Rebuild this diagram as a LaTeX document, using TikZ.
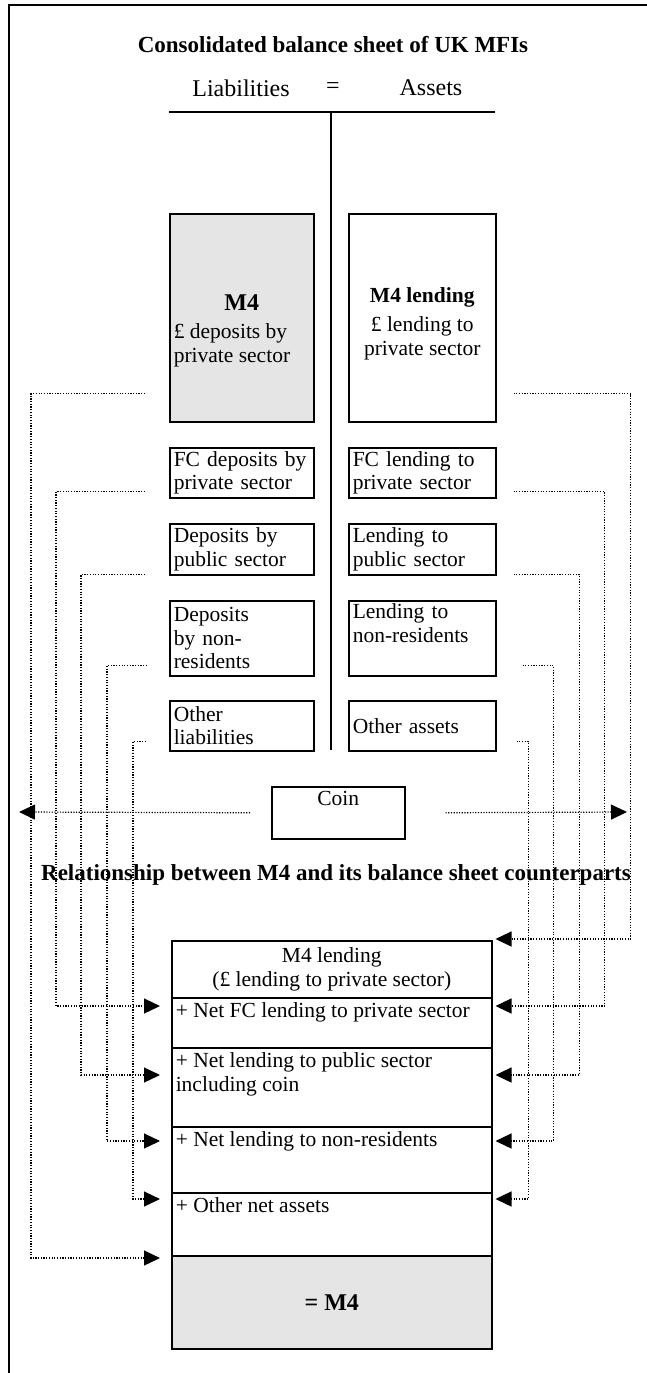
\documentclass[tikz,border=0pt]{standalone}
\usepackage{fontspec}
\setmainfont{Liberation Serif}
\usetikzlibrary{arrows.meta,calc}
\definecolor{sheetgrey}{HTML}{E5E5E5}

\begin{document}
\begin{tikzpicture}[x=1pt,y=-1pt,line width=1.5pt,
  font=\fontsize{21.5}{23.5}\selectfont,
  sheet/.style={rectangle,draw=black,line width=1.5pt,anchor=north west,inner xsep=4pt,inner ysep=2pt,align=left},
  rowtext/.style={anchor=north west,inner xsep=4pt,inner ysep=5pt,align=left},
  heading/.style={font=\fontsize{23}{27}\selectfont\bfseries},
  flow/.style={line width=1.2pt,dash pattern=on 1.2pt off 1.5pt,-{Triangle[length=16pt,width=15pt]}}]
\useasboundingbox (0,0) rectangle (647,1373);
\draw[line width=2pt] (647,5) -- (9,5) -- (9,1373);

\node[heading] (sheettitle) at (333,45) {Consolidated balance sheet of UK MFIs};
\node[font=\fontsize{24}{28}\selectfont] (liab) at (241,88) {Liabilities};
\node[font=\fontsize{24}{28}\selectfont] (equals) at (333,88) {=};
\node[font=\fontsize{24}{28}\selectfont] (assets) at (431,88) {Assets};
\draw[line width=2pt] (169,112) -- (495,112);
\draw[line width=2pt] (331,112) -- (331,750);

% liabilities side
\node[sheet,fill=sheetgrey,minimum width=144pt,minimum height=208pt] (m4dep) at (169,213) {};
\node[align=left,inner sep=0pt] (m4deptxt) at ([yshift=-13pt]m4dep.center) {\makebox[136pt]{\fontsize{24}{28}\selectfont\bfseries M4}\\[5pt]£ deposits by\\private sector};
\node[sheet,minimum width=144pt,minimum height=50pt,text width=136pt] (fcdep) at (169,447) {FC deposits by\\private sector};
\node[sheet,minimum width=144pt,minimum height=51pt,text width=136pt] (pubdep) at (169,523) {Deposits by\\public sector};
\node[sheet,minimum width=144pt,minimum height=75pt,text width=136pt] (nrdep) at (169,600) {Deposits\\by non-\\residents};
\node[sheet,minimum width=144pt,minimum height=50pt,text width=136pt] (othliab) at (169,700) {Other\\liabilities};

% assets side
\node[sheet,minimum width=147pt,minimum height=208pt] (m4lend) at (348,213) {};
\node[align=center,inner sep=0pt] (m4lendtxt) at ([yshift=-6pt]m4lend.center) {\textbf{M4 lending}\\[6pt]£ lending to\\private sector};
\node[sheet,minimum width=147pt,minimum height=50pt,text width=139pt] (fclend) at (348,447) {FC lending to\\private sector};
\node[sheet,minimum width=147pt,minimum height=51pt,text width=139pt] (publend) at (348,523) {Lending to\\public sector};
\node[sheet,minimum width=147pt,minimum height=75pt,text width=139pt] (nrlend) at (348,600) {Lending to\\non-residents\\\strut};
\node[sheet,minimum width=147pt,minimum height=50pt,text width=139pt] (othass) at (348,700) {Other assets};

\node[sheet,minimum width=133pt,minimum height=52pt,align=center] (coin) at (271,786) {\strut Coin\\\strut};
\coordinate (coinleft) at (19,812);
\coordinate (coinright) at (627,812);

\node[heading] (relation) at (336,875) {Relationship between M4 and its balance sheet counterparts};

% counterparts table
\node[sheet,minimum width=320pt,minimum height=57pt,align=center] (rlend) at (171,940) {M4 lending\\(£ lending to private sector)};
\node[sheet,minimum width=320pt,minimum height=50pt] (rfc) at (171,997) {};
\node[rowtext] (rfctxt) at (rfc.north west) {+ Net FC lending to private sector};
\node[sheet,minimum width=320pt,minimum height=79pt] (rpub) at (171,1047) {};
\node[rowtext] (rpubtxt) at (rpub.north west) {+ Net lending to public sector\\including coin};
\node[sheet,minimum width=320pt,minimum height=66pt] (rnr) at (171,1126) {};
\node[rowtext] (rnrtxt) at (rnr.north west) {+ Net lending to non-residents};
\node[sheet,minimum width=320pt,minimum height=63pt] (roth) at (171,1192) {};
\node[rowtext] (rothtxt) at (roth.north west) {+ Other net assets};
\node[sheet,fill=sheetgrey,minimum width=320pt,minimum height=93pt,align=center] (rm4) at (171,1255) {\fontsize{24}{28}\selectfont\bfseries = M4};

% left routes
\draw[flow] ($(m4dep.south west)+(-24,-29)$) -- ++(-114,0) |- ($(rm4.north west)+(-11,3)$);
\draw[flow] ($(fcdep.south west)+(-24,-7)$) -- ++(-89,0) |- ($(rfc.north west)+(-11,9)$);
\draw[flow] ($(pubdep.south west)+(-24,-1)$) -- ++(-64,0) |- ($(rpub.north west)+(-11,28)$);
\draw[flow] ($(nrdep.south west)+(-22,-11)$) -- ++(-40,0) |- ($(rnr.north west)+(-11,15)$);
\draw[flow] ($(othliab.south west)+(-23,-10)$) -- ++(-13,0) |- ($(roth.north west)+(-11,7)$);
% right routes
\draw[flow] ($(m4lend.south east)+(17,-29)$) -- ++(117,0) |- ($(rlend.north east)+(3,-1)$);
\draw[flow] ($(fclend.south east)+(17,-7)$) -- ++(91,0) |- ($(rfc.north east)+(3,9)$);
\draw[flow] ($(publend.south east)+(17,-1)$) -- ++(66,0) |- ($(rpub.north east)+(3,28)$);
\draw[flow] ($(nrlend.south east)+(26,-11)$) -- ++(31,0) |- ($(rnr.north east)+(3,15)$);
\draw[flow] ($(othass.south east)+(20,-10)$) -- ++(12,0) |- ($(roth.north east)+(3,7)$);
% coin
\draw[flow] ($(coin.west)+(-21,0)$) -- (coinleft);
\draw[flow] ($(coin.east)+(40,0)$) -- (coinright);

\end{tikzpicture}
\end{document}
